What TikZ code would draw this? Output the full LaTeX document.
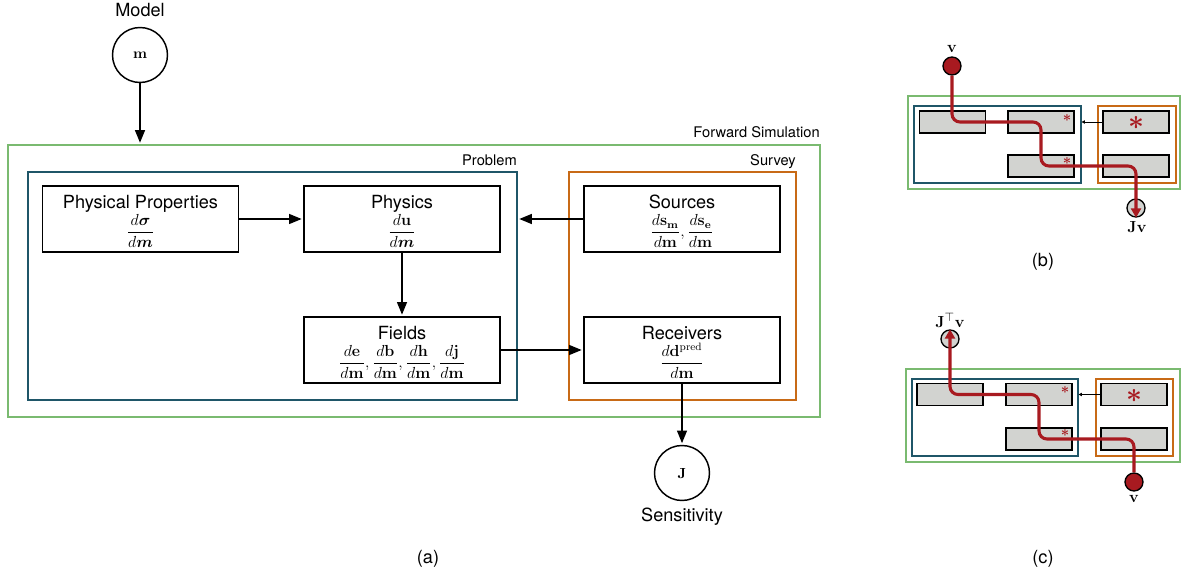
\documentclass[tikz,border=0pt]{standalone}
\usepackage{amssymb, mathtools, amsmath}
\usepackage[no-math]{fontspec}
\setmainfont{TeX Gyre Heros}
\usetikzlibrary{arrows.meta}
\definecolor{simgreen}{RGB}{122,186,112}
\definecolor{probteal}{RGB}{31,86,104}
\definecolor{survorange}{RGB}{200,106,22}
\definecolor{pathred}{RGB}{168,26,32}
\definecolor{cellgray}{RGB}{210,211,208}
\newcommand{\fracsize}{\fontsize{11.8}{13}\selectfont}
\newcommand{\titlesize}{\fontsize{13.6}{20.9}\selectfont\setlength{\lineskiplimit}{-100pt}\setlength{\lineskip}{0pt}}

\begin{document}
\begin{tikzpicture}[x=0.75pt,y=0.75pt,yscale=-1,xscale=1,
  block/.style={draw, line width=1.1pt, minimum width=147pt, minimum height=49.5pt, inner sep=0pt},
  blocktext/.style={anchor=north, align=center, inner xsep=0pt, inner ysep=7.3pt, font=\titlesize},
  boxframe/.style={draw=#1, line width=1pt, inner sep=0pt},
  tag/.style={inner sep=0pt, font=\fontsize{11}{13}\selectfont},
  lbl/.style={inner sep=0pt, font=\fontsize{13.6}{16}\selectfont},
  var/.style={draw, circle, line width=1.1pt, minimum size=41.25pt, inner sep=0pt, font=\fontsize{10.5}{12}\selectfont},
  arr/.style={-{Triangle[length=9.5pt,width=7.5pt]}, line width=1.1pt, shorten >=1.2pt},
  cell/.style={draw, fill=cellgray, line width=1.1pt, minimum width=49.5pt, minimum height=16.5pt, inner sep=0pt},
  mframe/.style={draw=#1, line width=0.8pt, inner sep=0pt},
  vecdot/.style={draw, circle, line width=1pt, minimum size=13.5pt, inner sep=0pt},
  vlbl/.style={inner sep=0pt, font=\fontsize{12.5}{14}\selectfont},
  flow/.style={draw=pathred, line width=2.3pt, rounded corners=6pt, -{Triangle[length=7pt,width=7.5pt]}},
  tinyarr/.style={line width=0.6pt, -{Triangle[length=2.5pt,width=2.5pt]}},
  redstar/.style={text=pathred, inner sep=0pt}
]
\useasboundingbox (0,0) rectangle (1181,577);

%Shape: Rectangle (containers)
\node[boxframe=simgreen, minimum width=609pt, minimum height=204pt] (fwd) at (414,281) {};
\node[boxframe=probteal, minimum width=366.75pt, minimum height=171pt] (problem) at (272.5,286) {};
\node[boxframe=survorange, minimum width=170.25pt, minimum height=171pt] (survey) at (682.5,286) {};

% Text Node
\node[tag, anchor=base east] (fwdtag) at (820,138) {Forward Simulation};
% Text Node
\node[tag, anchor=base east] (probtag) at (517,166) {Problem};
% Text Node
\node[tag, anchor=base east] (survtag) at (796,166) {Survey};

%Shape: Rectangle (blocks)
\node[block] (physprop) at (140.5,219) {};
\node[block] (physics) at (402,219) {};
\node[block] (fields) at (402,350) {};
\node[block] (sources) at (682,219) {};
\node[block] (receivers) at (682,350) {};

% Text Node
\node[blocktext] (physproptxt) at (physprop.north) {Physical Properties\\ {\fracsize$\dfrac{d\boldsymbol{\sigma}}{d\boldsymbol{m}}$}};
% Text Node
\node[blocktext] (physicstxt) at (physics.north) {Physics\\ {\fracsize$\dfrac{d\mathbf{u}}{d\boldsymbol{m}}$}};
% Text Node
\node[blocktext] (fieldstxt) at (fields.north) {Fields\\ {\fracsize$\dfrac{d\mathbf{e}}{d\mathbf{m}},\dfrac{d\mathbf{b}}{d\mathbf{m}},\dfrac{d\mathbf{h}}{d\mathbf{m}},\dfrac{d\mathbf{j}}{d\mathbf{m}}$}};
% Text Node
\node[blocktext] (sourcestxt) at (sources.north) {Sources\\ {\fracsize$\dfrac{d\mathbf{s}_{\mathbf{m}}}{d\mathbf{m}},\dfrac{d\mathbf{s}_{\mathbf{e}}}{d\mathbf{m}}$}};
% Text Node
\node[blocktext] (receiverstxt) at (receivers.north) {Receivers\\ {\fracsize$\dfrac{d\mathbf{d}^{\mathrm{pred}}}{d\mathbf{m}}$}};

%Shape: Circle
\node[var] (model) at (140,55) {$\mathbf{m}$};
% Text Node
\node[lbl, anchor=base] (modeltag) at (140,17) {Model};
%Shape: Circle
\node[var] (sens) at (682,473) {$\mathbf{J}$};
% Text Node
\node[lbl, anchor=base] (senstag) at (682,521) {Sensitivity};

%Straight Lines
\draw[arr] (model) -- (model |- fwd.north);
\draw[arr] (physprop) -- (physics);
\draw[arr] (physics) -- (fields);
\draw[arr] (sources.west) -- (sources.west -| problem.east);
\draw[arr] (fields) -- (receivers);
\draw[arr] (receivers) -- (sens);

% Text Node
\node[lbl, anchor=base] (capa) at (428,563) {(a)};
\node[lbl, anchor=base] (capb) at (1043,267) {(b)};
\node[lbl, anchor=base] (capc) at (1043,563) {(c)};

%%% panel (b)
\node[mframe=simgreen, minimum width=204pt, minimum height=69.75pt] (bfwd) at (1044,142.5) {};
\node[mframe=probteal, minimum width=125.25pt, minimum height=57.75pt] (bprob) at (997.5,144.5) {};
\node[mframe=survorange, minimum width=58.5pt, minimum height=57.75pt] (bsurv) at (1137,144.5) {};
\node[cell] (bpp) at (952.5,122) {};
\node[cell] (bphys) at (1041,122) {};
\node[cell] (bfld) at (1041,166) {};
\node[cell] (bsrc) at (1136,122) {};
\node[cell] (brec) at (1136,166) {};
\draw[tinyarr] (bsrc) -- (bsrc -| bprob.east);
\node[redstar, font=\fontsize{11}{11}\selectfont] (bstar1) at (1067,118) {$\boldsymbol{\ast}$};
\node[redstar, font=\fontsize{11}{11}\selectfont] (bstar2) at (1067,161) {$\boldsymbol{\ast}$};
\node[redstar, font=\fontsize{20}{20}\selectfont] (bstar3) at (1136,123) {$\boldsymbol{\ast}$};
\node[vecdot, fill=pathred] (bv) at (952,66) {};
\node[vecdot, fill=cellgray] (bjv) at (1136,208) {};
\draw[flow] (bv.south) |- (bphys.center) |- (brec.center) -- (bjv.south);
% Text Node
\node[vlbl, anchor=base] (bvtag) at (952,53) {$\mathbf{v}$};
\node[vlbl, anchor=base] (bjvtag) at (1137,233) {$\mathbf{J}\mathbf{v}$};

%%% panel (c)
\node[mframe=simgreen, minimum width=205.5pt, minimum height=69.75pt] (cfwd) at (1043,415.5) {};
\node[mframe=probteal, minimum width=124.5pt, minimum height=57.75pt] (cprob) at (995,417.5) {};
\node[mframe=survorange, minimum width=57.75pt, minimum height=57.75pt] (csurv) at (1134.5,417.5) {};
\node[cell] (cpp) at (950,394.5) {};
\node[cell] (cphys) at (1039,394.5) {};
\node[cell] (cfld) at (1039,439) {};
\node[cell] (csrc) at (1134,394.5) {};
\node[cell] (crec) at (1134,439) {};
\draw[tinyarr] (csrc) -- (csrc -| cprob.east);
\node[redstar, font=\fontsize{11}{11}\selectfont] (cstar1) at (1065,390) {$\boldsymbol{\ast}$};
\node[redstar, font=\fontsize{11}{11}\selectfont] (cstar2) at (1065,433) {$\boldsymbol{\ast}$};
\node[redstar, font=\fontsize{20}{20}\selectfont] (cstar3) at (1134,396) {$\boldsymbol{\ast}$};
\node[vecdot, fill=pathred] (cv) at (1134,482) {};
\node[vecdot, fill=cellgray] (cjt) at (950,339) {};
\draw[flow] (cv.north) |- (cfld.center) |- (cpp.center) -- (cjt.north);
% Text Node
\node[vlbl, anchor=base] (cjttag) at (950,327) {$\mathbf{J}^{\top}\mathbf{v}$};
\node[vlbl, anchor=base] (cvtag) at (1134,502) {$\mathbf{v}$};

\end{tikzpicture}
\end{document}
